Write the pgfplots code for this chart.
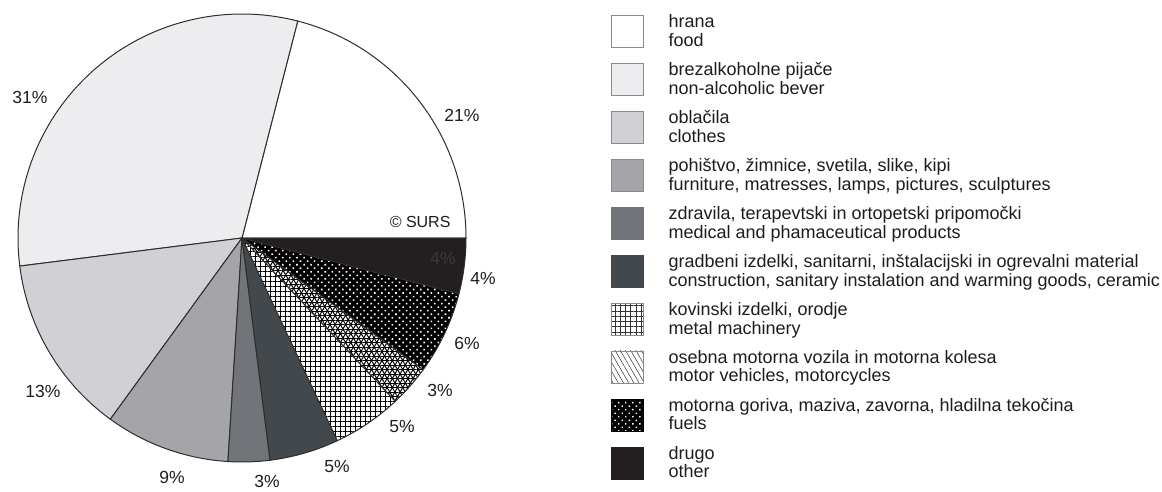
\documentclass[border=0pt]{standalone}
\usepackage{pgfplots}
\pgfplotsset{compat=1.18}
\usepackage{pgfplotstable}
\usepackage{fontspec}
\setmainfont{Liberation Sans}
\usetikzlibrary{patterns.meta}

\definecolor{cFood}{HTML}{FFFFFF}
\definecolor{cBev}{HTML}{EDEDEF}
\definecolor{cClo}{HTML}{D1D1D5}
\definecolor{cFur}{HTML}{A5A5A9}
\definecolor{cMed}{HTML}{717478}
\definecolor{cCon}{HTML}{43484D}
\definecolor{cOth}{HTML}{231F20}
\definecolor{cEdge}{HTML}{2E2E2E}
\definecolor{cText}{HTML}{1E1C1D}
\definecolor{cBoxEdge}{HTML}{8A8A8A}
\definecolor{cInner}{HTML}{3A3A3A}

\tikzset{
 slice0/.style={fill=cFood},
 slice1/.style={fill=cBev},
 slice2/.style={fill=cClo},
 slice3/.style={fill=cFur},
 slice4/.style={fill=cMed},
 slice5/.style={fill=cCon},
 slice6/.style={fill=white, postaction={pattern={Hatch[distance=5pt,angle=0,line width=0.6pt]},pattern color=black}},
 slice7/.style={fill=white,
   postaction={pattern={Lines[distance=4.5pt,angle=0,line width=1pt]},pattern color=black},
   postaction={pattern={Lines[distance=4.5pt,angle=60,line width=1pt]},pattern color=black},
   postaction={pattern={Lines[distance=4.5pt,angle=120,line width=1pt]},pattern color=black}},
 slice8/.style={fill=black, postaction={pattern={Dots[distance=5pt,radius=1.1pt,angle=45]},pattern color=white}},
 slice9/.style={fill=cOth},
}

% value = share in percent; lx, ly = position of its label
\pgfplotstableread[col sep=comma]{
value,lx,ly
21,462,376
31,30,394
13,43,100
9,172,14
3,267,10
5,337,24
5,402,64
3,440,101
6,467,148
4,483,213
}\piedata

\begin{document}
\begin{tikzpicture}
\begin{axis}[
  x=1pt, y=1pt,
  xmin=0, xmax=1162, ymin=0, ymax=491,
  hide axis, clip=false,
  legend style={
    at={(axis cs:611,476.5)}, anchor=north west,
    draw=none, fill=none, inner sep=0pt, outer sep=0pt,
    row sep=14.9pt, column sep=25pt,
    nodes={inner sep=0pt, outer sep=0pt},
    cells={anchor=west, align=left},
    font=\fontsize{18}{18.5}\selectfont, text=cText,
  },
  lbox/.style={legend image code/.code={\draw[##1] (0pt,-16pt) rectangle (32pt,16pt);}},
]
\coordinate (BL) at (axis cs:0,0);
\coordinate (TR) at (axis cs:1162,491);

\pgfplotsextra{%
  \gdef\cum{0}%
  \pgfplotstableforeachcolumnelement{value}\of\piedata\as\val{%
    \pgfmathsetmacro\angA{\cum*3.6}%
    \pgfmathsetmacro\angB{(\cum+\val)*3.6}%
    \begingroup\edef\x{\endgroup\noexpand\path[slice\pgfplotstablerow]}\x
      (axis cs:242,253) -- ++(\angA:224pt) arc[start angle=\angA,end angle=\angB,radius=224pt] -- cycle;
    \draw[cEdge,line width=1pt,line join=round]
      (axis cs:242,253) -- ++(\angA:224pt) arc[start angle=\angA,end angle=\angB,radius=224pt] -- cycle;
    \pgfmathsetmacro\newcum{\cum+\val}%
    \xdef\cum{\newcum}%
  }%
  \node[anchor=east, text=cText, font=\fontsize{16}{18}\selectfont] at (axis cs:454,269) {© SURS};
  \node[text=cInner, font=\fontsize{17.5}{20}\selectfont] at (axis cs:443,233) {4\%};
}

\addplot[draw=none, mark=none, forget plot,
  point meta=explicit symbolic,
  nodes near coords={\pgfplotspointmeta\%},
  every node near coord/.append style={anchor=center, text=cText, font=\fontsize{17.5}{20}\selectfont},
] table[x=lx, y=ly, meta=value] {\piedata};

\addlegendimage{lbox, draw=cBoxEdge, line width=0.6pt, fill=cFood}
\addlegendentry{hrana\\food}
\addlegendimage{lbox, draw=cBoxEdge, line width=0.6pt, fill=cBev}
\addlegendentry{brezalkoholne pijače\\non-alcoholic bever}
\addlegendimage{lbox, draw=cBoxEdge, line width=0.6pt, fill=cClo}
\addlegendentry{oblačila\\clothes}
\addlegendimage{lbox, draw=cBoxEdge, line width=0.6pt, fill=cFur}
\addlegendentry{pohištvo, žimnice, svetila, slike, kipi\\furniture, matresses, lamps, pictures, sculptures}
\addlegendimage{lbox, draw=cMed, line width=0.6pt, fill=cMed}
\addlegendentry{zdravila, terapevtski in ortopetski pripomočki\\medical and phamaceutical products}
\addlegendimage{lbox, draw=cCon, line width=0.6pt, fill=cCon}
\addlegendentry{gradbeni izdelki, sanitarni, inštalacijski in ogrevalni material\\construction, sanitary instalation and warming goods, ceramic}
\addlegendimage{lbox, draw=cBoxEdge, line width=0.6pt, fill=white, postaction={pattern={Hatch[distance=5.3pt,angle=0,line width=0.5pt]},pattern color=black!80}}
\addlegendentry{kovinski izdelki, orodje\\metal machinery}
\addlegendimage{lbox, draw=cBoxEdge, line width=0.6pt, fill=white, postaction={pattern={Lines[distance=4.5pt,angle=-60,line width=0.5pt]},pattern color=black!80}}
\addlegendentry{osebna motorna vozila in motorna kolesa\\motor vehicles, motorcycles}
\addlegendimage{lbox, draw=black, line width=0.6pt, fill=black, postaction={pattern={Dots[distance=5pt,radius=1pt,angle=45]},pattern color=white}}
\addlegendentry{motorna goriva, maziva, zavorna, hladilna tekočina\\fuels}
\addlegendimage{lbox, draw=cOth, line width=0.6pt, fill=cOth}
\addlegendentry{drugo\\other}
\end{axis}
\pgfresetboundingbox
\path (BL) rectangle (TR);
\end{tikzpicture}
\end{document}
